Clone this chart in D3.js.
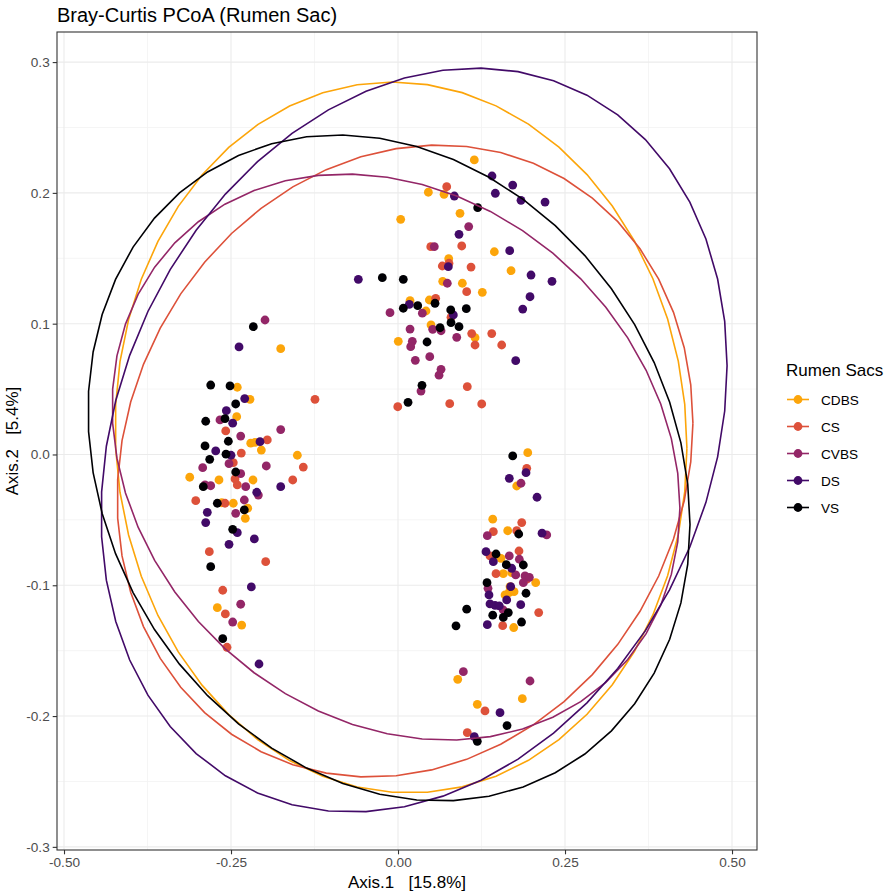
<!DOCTYPE html>
<html>
<head>
<meta charset="utf-8">
<script src="https://cdn.jsdelivr.net/npm/d3@7"></script>
<style>
  body { margin: 0; background: #fff; }
  text { font-family: "Liberation Sans", Arial, sans-serif; }
</style>
</head>
<body>
<div id="chart"></div>
<script>
// groups and colours (inferno palette)
const groups = ["CDBS", "CS", "CVBS", "DS", "VS"]
const colors = ["#FCA50A", "#DD513A", "#932667", "#420A68", "#000004"]

// points per rumen sac
const cdbsX = [-0.1756,-0.2406,-0.2216,-0.2415,-0.2205,-0.2141,-0.2046,-0.1507,-0.3118,-0.2680,-0.2171,-0.2639,-0.2466,-0.2250,-0.2286,-0.2705,-0.2340,
  0.1142,0.0454,0.0689,0.0040,0.0928,0.1442,0.0759,0.1692,0.0669,0.0963,0.1262,0.0180,0.0469,0.0419,0.0494,0.1153,0.0004,
  0.1942,0.1777,0.1418,0.1642,0.1542,0.1576,0.1702,0.2061,0.1677,0.1662,0.1737,0.1602,0.1732,0.0894,0.1187,0.1861]
const cdbsY = [0.0809,0.0514,0.0422,0.0289,0.0086,0.0093,0.0034,-0.0006,-0.0174,-0.0195,-0.0195,-0.0369,-0.0373,-0.0411,-0.0488,-0.1171,-0.1304,
  0.2252,0.2005,0.1989,0.1798,0.1844,0.1550,0.1497,0.1405,0.1324,0.1309,0.1240,0.1176,0.1181,0.1097,0.0990,0.0893,0.0865,
  0.0014,-0.0241,-0.0495,-0.0583,-0.0794,-0.0911,-0.0904,-0.0980,-0.1011,-0.1057,-0.1049,-0.1074,-0.1323,-0.1719,-0.1910,-0.1867]

const csX = [-0.1243,-0.2579,-0.1957,-0.2346,-0.2466,-0.1418,-0.1576,-0.2440,-0.2406,-0.3028,-0.2590,-0.2825,-0.1981,-0.2624,-0.2585,-0.2560,
  0.0729,0.0490,0.0954,0.0663,0.0763,0.1093,0.1028,0.0564,0.0793,0.1103,0.1153,0.1403,0.1552,0.1037,-0.0004,0.0774,0.1253,
  0.1927,0.1852,0.1427,0.1777,0.1377,0.1811,0.1467,0.1927,0.2106,0.1567,0.1302,0.1037]
const csY = [0.0422,0.0180,0.0111,0.0011,-0.0063,-0.0096,-0.0195,-0.0187,-0.0233,-0.0353,-0.0373,-0.0743,-0.0820,-0.1038,-0.1219,-0.1474,
  0.2047,0.1589,0.1594,0.1441,0.1462,0.1433,0.1245,0.1194,0.1049,0.0924,0.0837,0.0924,0.0837,0.0518,0.0365,0.0388,0.0386,
  -0.0106,-0.0521,-0.0590,-0.0583,-0.0776,-0.0738,-0.0911,-0.0954,-0.1209,-0.1309,-0.1961,-0.2127]

const cvbsX = [-0.1991,-0.2665,-0.1756,-0.2355,-0.2924,-0.2530,-0.1972,-0.2355,-0.2889,-0.2804,-0.2280,-0.2091,-0.2301,-0.2430,-0.2355,-0.2475,
  0.1058,0.0543,0.0738,-0.0120,0.0364,0.0519,0.0644,0.0180,0.0214,0.0190,0.0879,0.0259,0.0475,0.0644,0.0614,0.0344,
  0.1841,0.1337,0.2226,0.1666,0.1816,0.1762,0.1901,0.1966,0.1876,0.1347,0.1576,0.0978,0.1976]
const cvbsY = [0.1028,0.0264,0.0190,0.0141,-0.0101,-0.0070,-0.0088,-0.0147,-0.0233,-0.0239,-0.0246,-0.0310,-0.0348,-0.0450,-0.1145,-0.1281,
  0.1742,0.1589,0.1309,0.1084,0.1080,0.0957,0.0946,0.0959,0.0865,0.0824,0.0896,0.0720,0.0748,0.0651,0.0606,0.0485,
  -0.0220,-0.0621,-0.0615,-0.0776,-0.0801,-0.0921,-0.0929,-0.0939,-0.0980,-0.1023,-0.1189,-0.1661,-0.1732]

const dsX = [-0.2380,-0.2295,-0.2570,-0.2475,-0.2066,-0.2729,-0.2500,-0.2115,-0.1756,-0.2855,-0.2879,-0.2406,-0.2151,-0.2530,-0.2196,-0.2081,
  0.1407,0.1717,0.0843,0.1457,0.1841,0.2201,0.0913,0.1672,0.0753,0.1991,0.2305,-0.0594,0.1976,0.1867,0.0169,0.0828,0.1762,
  0.1916,0.1666,0.2081,0.2156,0.1317,0.1427,0.1702,0.1687,0.1362,0.1627,0.1837,0.1377,0.1452,0.1516,0.1337,0.1527,0.1142]
const dsY = [0.0822,0.0427,0.0335,0.0239,0.0098,0.0027,-0.0006,-0.0289,-0.0246,-0.0442,-0.0521,-0.0598,-0.0646,-0.0687,-0.1013,-0.1602,
  0.2129,0.2060,0.1976,0.1997,0.1943,0.1930,0.1683,0.1558,0.1436,0.1372,0.1324,0.1339,0.1206,0.1112,0.1148,0.1067,0.0717,
  -0.0139,-0.0182,-0.0327,-0.0602,-0.0743,-0.0820,-0.0870,-0.1011,-0.1074,-0.1112,-0.1148,-0.1143,-0.1153,-0.1158,-0.1301,-0.1974,-0.2157]

const vsX = [-0.2166,-0.2804,-0.2515,-0.2430,-0.2590,-0.2879,-0.2540,-0.2889,-0.2575,-0.2819,-0.2430,-0.2915,-0.2705,-0.2301,-0.2475,-0.2804,-0.2624,
  0.1193,-0.0235,0.0079,0.0079,0.0295,0.0554,0.0789,0.1022,0.0793,0.0913,0.0629,0.0434,0.0359,0.0150,
  0.1717,0.1807,0.1467,0.1621,0.1876,0.1332,0.1916,0.1028,0.1651,0.1418,0.1576,0.0868,0.1849,0.1632,0.1187]
const vsY = [0.0977,0.0531,0.0524,0.0386,0.0274,0.0254,0.0101,0.0065,0.0002,-0.0037,-0.0134,-0.0246,-0.0373,-0.0424,-0.0572,-0.0858,-0.1408,
  0.1887,0.1352,0.1339,0.1118,0.1138,0.1156,0.1105,0.1115,0.1008,0.0977,0.0969,0.0860,0.0529,0.0399,
  -0.0011,-0.0608,-0.0761,-0.0843,-0.0845,-0.0980,-0.1061,-0.1183,-0.1209,-0.1229,-0.1246,-0.1310,-0.1281,-0.2073,-0.2193]

// 95% ellipses: centre, half-width, half-height, correlation
const ellCx  = [0.0045, 0.0105, -0.003, 0.024, -0.0135]
const ellCy  = [0.013, -0.005, -0.002, 0.011, -0.0103]
const ellW   = [0.428, 0.431, 0.425, 0.4686, 0.4506]
const ellH   = [0.2718, 0.2416, 0.2164, 0.2844, 0.2546]
const ellRho = [-0.03, 0.12, -0.18, 0.2, -0.17]

const xTicks = [-0.5, -0.25, 0, 0.25, 0.5]
const xTickLabels = ["-0.50", "-0.25", "0.00", "0.25", "0.50"]
const yTicks = [-0.3, -0.2, -0.1, 0, 0.1, 0.2, 0.3]
const yTickLabels = ["-0.3", "-0.2", "-0.1", "0.0", "0.1", "0.2", "0.3"]
const xMinor = [-0.375, -0.125, 0.125, 0.375]
const yMinor = [-0.25, -0.15, -0.05, 0.05, 0.15, 0.25]

const pointsX = [cdbsX, csX, cvbsX, dsX, vsX]
const pointsY = [cdbsY, csY, cvbsY, dsY, vsY]

const w = 886
const h = 895
const pLeft = 57, pRight = 757, pTop = 32, pBottom = 850

const xScale = d3.scaleLinear().domain([-0.5105, 0.5374]).range([pLeft, pRight])
const yScale = d3.scaleLinear().domain([-0.3024, 0.323]).range([pBottom, pTop])

const svg = d3.select('#chart').append('svg')
    .attr('width', w)
    .attr('height', h)

svg.append('rect').attr('width', w).attr('height', h).attr('fill', '#fff')

// grid
const grid = svg.append('g')
grid.selectAll('.xminor').data(xMinor).enter().append('line')
    .attr('x1', d => xScale(d)).attr('x2', d => xScale(d))
    .attr('y1', pTop).attr('y2', pBottom)
    .attr('stroke', '#F2F2F2').attr('stroke-width', 0.8)
grid.selectAll('.yminor').data(yMinor).enter().append('line')
    .attr('y1', d => yScale(d)).attr('y2', d => yScale(d))
    .attr('x1', pLeft).attr('x2', pRight)
    .attr('stroke', '#F2F2F2').attr('stroke-width', 0.8)
grid.selectAll('.xmajor').data(xTicks).enter().append('line')
    .attr('x1', d => xScale(d)).attr('x2', d => xScale(d))
    .attr('y1', pTop).attr('y2', pBottom)
    .attr('stroke', '#EBEBEB').attr('stroke-width', 1.1)
grid.selectAll('.ymajor').data(yTicks).enter().append('line')
    .attr('y1', d => yScale(d)).attr('y2', d => yScale(d))
    .attr('x1', pLeft).attr('x2', pRight)
    .attr('stroke', '#EBEBEB').attr('stroke-width', 1.1)

// points
groups.forEach((g, gi) => {
  const pts = pointsX[gi].map((v, i) => [v, pointsY[gi][i]])
  svg.append('g').selectAll('circle')
     .data(pts)
     .enter()
     .append('circle')
     .attr('cx', d => xScale(d[0]))
     .attr('cy', d => yScale(d[1]))
     .attr('r', 4.4)
     .attr('fill', colors[gi])
})

// ellipses, 51 segments like stat_ellipse
const segs = d3.range(52).map(i => i * 2 * Math.PI / 51)
const line = d3.line().x(d => xScale(d[0])).y(d => yScale(d[1]))
groups.forEach((g, gi) => {
  const s = Math.sqrt(1 - ellRho[gi] * ellRho[gi])
  const path = segs.map(t => [
    ellCx[gi] + ellW[gi] * Math.cos(t),
    ellCy[gi] + ellH[gi] * (ellRho[gi] * Math.cos(t) + s * Math.sin(t))
  ])
  svg.append('path')
     .attr('d', line(path))
     .attr('fill', 'none')
     .attr('stroke', colors[gi])
     .attr('stroke-width', 1.6)
})

// panel border
svg.append('rect')
   .attr('x', pLeft).attr('y', pTop)
   .attr('width', pRight - pLeft).attr('height', pBottom - pTop)
   .attr('fill', 'none').attr('stroke', '#333333').attr('stroke-width', 1.1)

// axes
const xAxis = svg.append('g')
    .attr('transform', `translate(0,${pBottom})`)
    .call(d3.axisBottom(xScale).tickValues(xTicks).tickFormat((d, i) => xTickLabels[i]).tickSize(4.3).tickPadding(3))
const yAxis = svg.append('g')
    .attr('transform', `translate(${pLeft},0)`)
    .call(d3.axisLeft(yScale).tickValues(yTicks).tickFormat((d, i) => yTickLabels[i]).tickSize(4.3).tickPadding(3))
;[xAxis, yAxis].forEach(a => {
  a.select('.domain').remove()
  a.selectAll('line').attr('stroke', '#333333').attr('stroke-width', 1.1)
  a.selectAll('text').attr('fill', '#4D4D4D').style('font-size', '13.6px')
     .style('font-family', '"Liberation Sans", Arial, sans-serif')
})

// titles
svg.append('text').attr('x', pLeft).attr('y', 22)
   .style('font-size', '20px').attr('fill', '#000').text('Bray-Curtis PCoA (Rumen Sac)')
svg.append('text').attr('x', (pLeft + pRight) / 2).attr('y', 888)
   .attr('text-anchor', 'middle').style('font-size', '17px').style('white-space', 'pre')
   .text('Axis.1   [15.8%]')
svg.append('text').attr('transform', 'translate(18,441) rotate(-90)')
   .attr('text-anchor', 'middle').style('font-size', '17px').style('white-space', 'pre')
   .text('Axis.2   [5.4%]')

// legend
const legend = svg.append('g')
legend.append('text').attr('x', 786).attr('y', 376).style('font-size', '17px').text('Rumen Sacs')
groups.forEach((g, gi) => {
  const yy = 399.5 + gi * 27
  legend.append('line').attr('x1', 787).attr('x2', 809).attr('y1', yy).attr('y2', yy)
        .attr('stroke', colors[gi]).attr('stroke-width', 1.6)
  legend.append('circle').attr('cx', 798).attr('cy', yy).attr('r', 4.4).attr('fill', colors[gi])
  legend.append('text').attr('x', 821).attr('y', yy + 5).style('font-size', '13.6px').text(g)
})
</script>
</body>
</html>
